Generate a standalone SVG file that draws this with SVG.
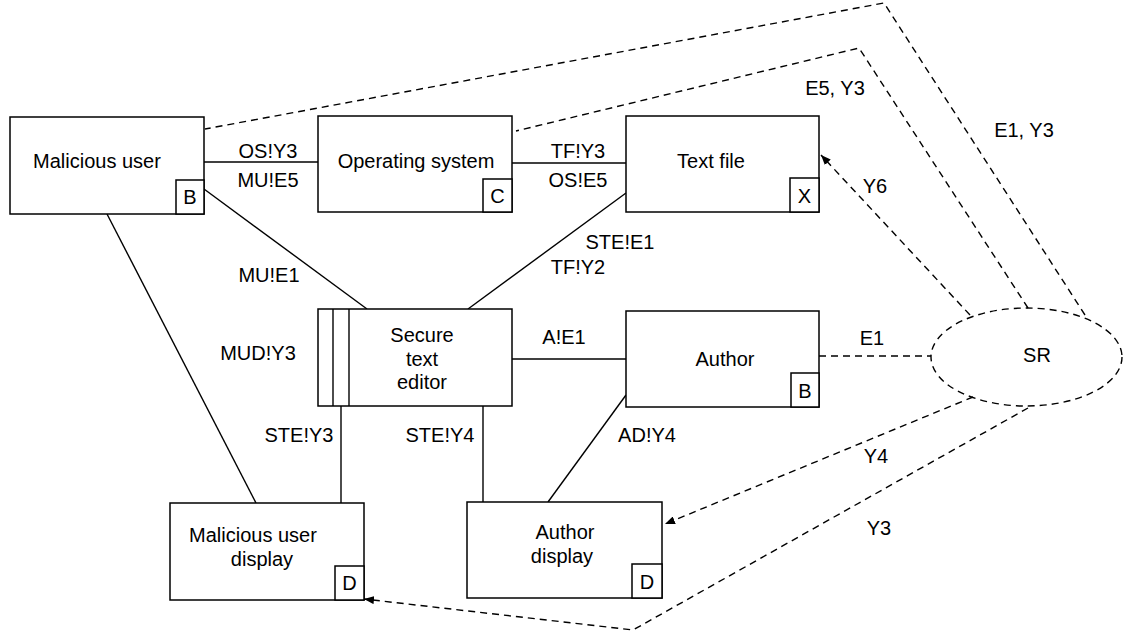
<svg xmlns="http://www.w3.org/2000/svg" width="1124" height="631" viewBox="0 0 1124 631">
<defs>
<style>
text{font-family:"Liberation Sans",Arial,sans-serif;font-size:20px;fill:#000;text-anchor:middle}
.box{fill:#fff;stroke:#000;stroke-width:1.5}
.sl{fill:none;stroke:#000;stroke-width:1.4}
.dl{fill:none;stroke:#000;stroke-width:1.4;stroke-dasharray:7,5}
</style>
<marker id="ah" viewBox="0 0 10 8" refX="10" refY="4" markerWidth="10" markerHeight="8" markerUnits="userSpaceOnUse" orient="auto">
<path d="M0,0 L10,4 L0,8 Z" fill="#000"/>
</marker>
</defs>
<rect width="1124" height="631" fill="#fff"/>
<g id="connectors">
<line class="sl" x1="204" y1="162" x2="318" y2="162"/>
<line class="sl" x1="512" y1="163" x2="626" y2="163"/>
<line class="sl" x1="204" y1="189" x2="367" y2="309"/>
<line class="sl" x1="626" y1="193" x2="468" y2="309"/>
<line class="sl" x1="512" y1="359" x2="626" y2="359"/>
<line class="sl" x1="626" y1="395" x2="548" y2="502"/>
<line class="sl" x1="341" y1="406" x2="341" y2="503"/>
<line class="sl" x1="483" y1="406" x2="483" y2="502"/>
<line class="sl" x1="107" y1="214" x2="256" y2="503"/>
<polyline class="dl" points="1085,315 884,3 205,129"/>
<polyline class="dl" points="1028,308 859,48 516,131"/>
<line class="dl" x1="970" y1="315" x2="821" y2="155" marker-end="url(#ah)"/>
<line class="dl" x1="819" y1="356" x2="931" y2="356"/>
<line class="dl" x1="973" y1="397" x2="665" y2="524" marker-end="url(#ah)"/>
<polyline class="dl" points="1028,408 633,630 364,599" marker-end="url(#ah)"/>
<text x="268" y="158">OS!Y3</text>
<text x="268" y="187">MU!E5</text>
<text x="578" y="158">TF!Y3</text>
<text x="578" y="187">OS!E5</text>
<text x="269" y="282">MU!E1</text>
<text x="620" y="249">STE!E1</text>
<text x="578" y="274">TF!Y2</text>
<text x="258" y="360">MUD!Y3</text>
<text x="564" y="344">A!E1</text>
<text x="872" y="345">E1</text>
<text x="299" y="442">STE!Y3</text>
<text x="440" y="442">STE!Y4</text>
<text x="647" y="442">AD!Y4</text>
<text x="876" y="463">Y4</text>
<text x="879" y="535">Y3</text>
<text x="875" y="193">Y6</text>
<text x="835" y="95">E5, Y3</text>
<text x="1024" y="137">E1, Y3</text>
</g>
<g id="malicious-user">
<rect class="box" x="10" y="117" width="194" height="97"/>
<rect class="box" x="176" y="180" width="28" height="34"/>
<text x="97" y="168">Malicious user</text>
<text x="190" y="204">B</text>
</g>
<g id="operating-system">
<rect class="box" x="318" y="116" width="194" height="96"/>
<rect class="box" x="483" y="179" width="29" height="33"/>
<text x="416" y="168">Operating system</text>
<text x="497.5" y="203">C</text>
</g>
<g id="text-file">
<rect class="box" x="626" y="116" width="193" height="96"/>
<rect class="box" x="790" y="178" width="29" height="34"/>
<text x="711" y="168">Text file</text>
<text x="804.5" y="203">X</text>
</g>
<g id="secure-text-editor">
<rect class="box" x="318" y="309" width="194" height="97"/>
<line class="sl" x1="333" y1="309" x2="333" y2="406"/>
<line class="sl" x1="349" y1="309" x2="349" y2="406"/>
<text x="422" y="342">Secure</text>
<text x="422" y="366">text</text>
<text x="422" y="389">editor</text>
</g>
<g id="author">
<rect class="box" x="626" y="311" width="193" height="96"/>
<rect class="box" x="791" y="373" width="28" height="34"/>
<text x="725" y="366">Author</text>
<text x="805" y="398">B</text>
</g>
<g id="malicious-user-display">
<rect class="box" x="170" y="503" width="194" height="97"/>
<rect class="box" x="335" y="566" width="29" height="34"/>
<text x="253" y="542">Malicious user</text>
<text x="262" y="566">display</text>
<text x="349.5" y="590">D</text>
</g>
<g id="author-display">
<rect class="box" x="467" y="502" width="195" height="96"/>
<rect class="box" x="632" y="564" width="30" height="34"/>
<text x="565" y="539">Author</text>
<text x="562" y="563">display</text>
<text x="647" y="589">D</text>
</g>
<g id="sr">
<ellipse class="dl" cx="1026.5" cy="357" rx="95.5" ry="49" fill="#fff"/>
<text x="1037" y="362">SR</text>
</g>
</svg>
